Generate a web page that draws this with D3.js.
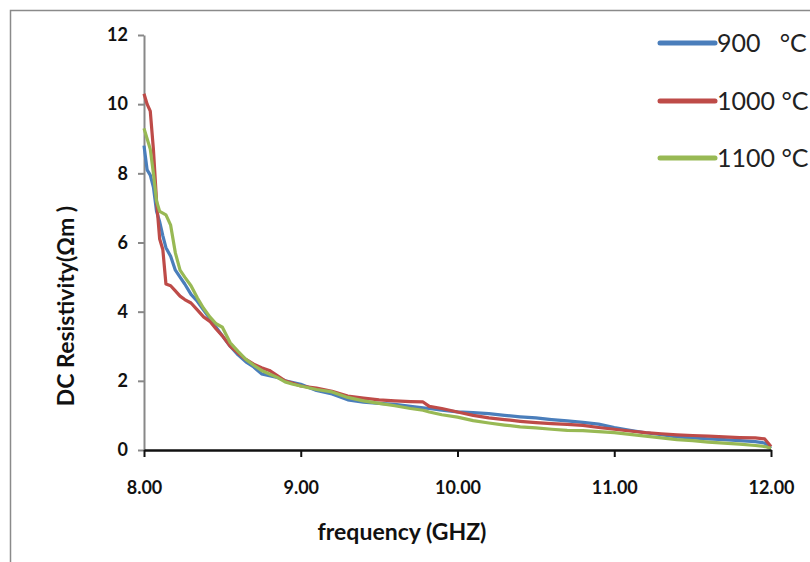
<!DOCTYPE html>
<html><head><meta charset="utf-8">
<script src="https://cdn.jsdelivr.net/npm/d3@7"></script>
<style>body{margin:0;background:#fff}svg{display:block}</style>
</head><body>
<script>
const frequency = [8.00,8.02,8.04,8.06,8.08,8.10,8.12,8.14,8.17,8.20,8.23,8.26,8.30,8.34,8.38,8.42,8.46,8.50,8.55,8.60,8.65,8.70,8.75,8.80,8.85,8.90,8.95,9.00,9.10,9.20,9.30,9.40,9.50,9.60,9.70,9.78,9.82,9.90,10.00,10.10,10.20,10.30,10.40,10.50,10.60,10.70,10.80,10.90,11.00,11.10,11.20,11.30,11.40,11.50,11.60,11.70,11.80,11.90,11.96,12.00];
const res900 = [8.8,8.1,7.95,7.6,6.9,6.6,6.2,5.85,5.6,5.2,5.0,4.8,4.5,4.3,4.05,3.8,3.55,3.3,3.0,2.75,2.55,2.4,2.2,2.15,2.1,2.0,1.95,1.9,1.72,1.62,1.45,1.38,1.35,1.32,1.26,1.22,1.2,1.15,1.1,1.08,1.05,1.0,0.96,0.93,0.88,0.84,0.8,0.75,0.65,0.57,0.5,0.44,0.38,0.35,0.32,0.3,0.27,0.24,0.2,0.05];
const res1000 = [10.3,10.0,9.8,8.7,7.2,6.1,5.8,4.8,4.75,4.6,4.45,4.35,4.25,4.05,3.85,3.72,3.5,3.3,3.0,2.8,2.62,2.48,2.38,2.3,2.15,2.0,1.93,1.85,1.79,1.7,1.56,1.5,1.45,1.42,1.4,1.39,1.26,1.2,1.1,1.0,0.93,0.88,0.83,0.79,0.76,0.74,0.71,0.65,0.6,0.55,0.5,0.47,0.44,0.42,0.4,0.38,0.36,0.35,0.32,0.1];
const res1100 = [9.3,9.0,8.7,8.0,7.2,6.9,6.85,6.8,6.5,5.7,5.2,5.0,4.75,4.4,4.1,3.85,3.65,3.55,3.1,2.85,2.62,2.45,2.3,2.2,2.1,1.97,1.9,1.85,1.75,1.68,1.52,1.42,1.35,1.28,1.2,1.15,1.1,1.02,0.95,0.85,0.78,0.72,0.67,0.64,0.6,0.57,0.56,0.53,0.5,0.45,0.4,0.35,0.3,0.27,0.23,0.2,0.17,0.13,0.1,0.05];
const seriesNames = ["900   °C","1000 °C","1100 °C"];
const seriesColors = ["#4a7ebb","#be4b48","#98b954"];
const xTicks = [8,9,10,11,12];
const yTicks = [0,2,4,6,8,10,12];

const W=810,H=562;
const svg=d3.select("body").append("svg").attr("width",W).attr("height",H);
const font="Lato, 'Open Sans', sans-serif";

// outer frame
svg.append("path").attr("d","M10.5,562 V10.5 H810").attr("fill","none").attr("stroke","#8a8a8a").attr("stroke-width",1.5);

const x=d3.scaleLinear().domain([8,12]).range([144,771]);
const y=d3.scaleLinear().domain([0,12]).range([450,35]);

// y axis
const ya=svg.append("g").attr("transform","translate(144,0)")
  .call(d3.axisLeft(y).tickValues(yTicks).tickSize(6).tickSizeOuter(0).tickPadding(10).tickFormat(d3.format("d")));
ya.select(".domain").attr("stroke","#888").attr("stroke-width",2);
ya.selectAll(".tick line").attr("stroke","#888").attr("stroke-width",2);
ya.selectAll(".tick text").attr("font-family",font).attr("font-weight","bold").attr("font-size",18).attr("fill","#111");

// lines
const series=[res900,res1000,res1100];
const line=d3.line().x((d,i)=>x(frequency[i])).y(d=>y(d));
series.forEach((s,k)=>{
  svg.append("path").datum(s).attr("d",line).attr("fill","none")
    .attr("stroke",seriesColors[k]).attr("stroke-width",3.2).attr("stroke-linejoin","round");
});

// x axis
const xa=svg.append("g").attr("transform","translate(0,450)")
  .call(d3.axisBottom(x).tickValues(xTicks).tickSize(7).tickSizeOuter(0).tickPadding(24).tickFormat(d3.format(".2f")));
xa.select(".domain").attr("stroke","#111").attr("stroke-width",2.5);
xa.selectAll(".tick line").attr("stroke","#111").attr("stroke-width",2);
xa.selectAll(".tick text").attr("font-family",font).attr("font-weight","bold").attr("font-size",18).attr("fill","#111");

// axis titles
svg.append("text").attr("x",402).attr("y",540).attr("text-anchor","middle")
  .attr("font-family",font).attr("font-weight","bold").attr("font-size",23).attr("fill","#111")
  .text("frequency (GHZ)");
svg.append("text").attr("transform","translate(74,306) rotate(-90)").attr("text-anchor","middle")
  .attr("font-family",font).attr("font-weight","bold").attr("font-size",23).attr("fill","#111")
  .text("DC Resistivity(Ωm )");

// legend
const legY=[43,101,158];
seriesNames.forEach((n,k)=>{
  svg.append("line").attr("x1",660).attr("x2",715).attr("y1",legY[k]).attr("y2",legY[k])
    .attr("stroke",seriesColors[k]).attr("stroke-width",5).attr("stroke-linecap","round");
  svg.append("text").attr("x",717).attr("y",legY[k]+9).attr("font-family",font)
    .attr("font-size",25).attr("fill","#222").attr("xml:space","preserve").style("white-space","pre").text(n);
});
</script>
</body></html>
